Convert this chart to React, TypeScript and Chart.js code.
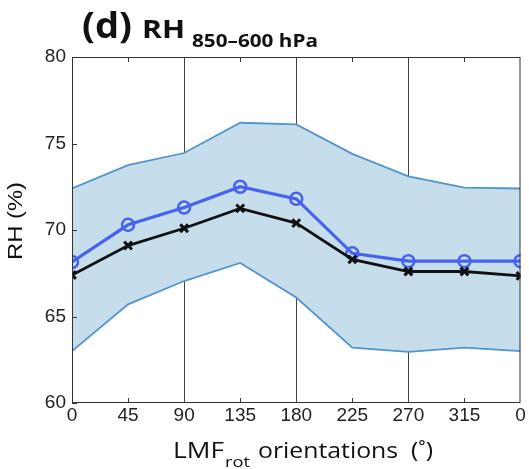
import React, { useEffect, useRef } from "react";
import { Chart, registerables } from "chart.js";

Chart.register(...registerables);

const orientations = [0, 45, 90, 135, 180, 225, 270, 315, 360];
const xTickLabels = ["0", "45", "90", "135", "180", "225", "270", "315", "0"];
const upperBand = [72.4, 73.75, 74.45, 76.2, 76.1, 74.4, 73.1, 72.45, 72.4];
const lowerBand = [63.0, 65.7, 67.05, 68.1, 66.1, 63.2, 62.95, 63.2, 63.0];
const blueMean = [68.15, 70.3, 71.3, 72.5, 71.8, 68.65, 68.2, 68.2, 68.2];
const blackMean = [67.4, 69.1, 70.1, 71.25, 70.4, 68.3, 67.6, 67.6, 67.35];
const yTicks = [60, 65, 70, 75, 80];
const separatorLines = [90, 180, 270];
const minorTicks = [45, 135, 225, 315];

const pts = (vals: number[]) => vals.map((y, i) => ({ x: orientations[i], y }));

function drawFit(ctx: any, text: string, x: number, y: number, font: string, width: number, rot = 0) {
  ctx.save();
  ctx.font = font;
  const w = ctx.measureText(text).width;
  ctx.translate(x, y);
  if (rot) ctx.rotate(rot);
  ctx.scale(width / w, 1);
  ctx.fillText(text, 0, 0);
  ctx.restore();
}

const decorPlugin = {
  id: "decor",
  afterDraw(chart: any) {
    const { ctx, chartArea: a, scales } = chart;
    const xs = scales.x;
    const ys = scales.y;
    ctx.save();
    ctx.strokeStyle = "#333";
    ctx.lineWidth = 1;
    ctx.strokeRect(a.left + 0.5, a.top + 0.5, a.right - a.left - 1, a.bottom - a.top - 1);
    ctx.beginPath();
    minorTicks.forEach((v) => {
      const px = Math.round(xs.getPixelForValue(v)) + 0.5;
      ctx.moveTo(px, a.bottom);
      ctx.lineTo(px, a.bottom - 5);
      ctx.moveTo(px, a.top);
      ctx.lineTo(px, a.top + 5);
    });
    yTicks.forEach((v) => {
      const py = Math.round(ys.getPixelForValue(v)) + 0.5;
      ctx.moveTo(a.left, py);
      ctx.lineTo(a.left + 5, py);
    });
    ctx.stroke();

    ctx.fillStyle = "#111";
    ctx.textBaseline = "alphabetic";
    ctx.textAlign = "left";
    const tf = "'Open Sans', sans-serif";
    drawFit(ctx, "(d)", 82, 38, `bold 35px ${tf}`, 50);
    drawFit(ctx, "RH", 142, 38, `bold 25px ${tf}`, 43);
    drawFit(ctx, "850–600 hPa", 192, 47, `bold 17px ${tf}`, 126);

    drawFit(ctx, "LMF", 173, 458, `22px ${tf}`, 51);
    drawFit(ctx, "rot", 225, 467, `15px ${tf}`, 25);
    drawFit(ctx, "orientations  (˚)", 258, 458, `22px ${tf}`, 175);

    drawFit(ctx, "RH (%)", 22, 260, "20px 'Liberation Sans', Arial, sans-serif", 78, -Math.PI / 2);
    ctx.restore();
  },
};

export default function App() {
  const ref = useRef<HTMLCanvasElement | null>(null);
  useEffect(() => {
    if (!ref.current) return;
    const tickFont = { family: "'Liberation Sans', Arial, sans-serif", size: 19 };
    const chart = new Chart(ref.current, {
      type: "line",
      data: {
        datasets: [
          {
            label: "upper",
            data: pts(upperBand),
            borderColor: "rgb(82,148,205)",
            borderWidth: 1.8,
            pointRadius: 0,
            fill: false,
            order: 3,
          },
          {
            label: "lower",
            data: pts(lowerBand),
            borderColor: "rgb(82,148,205)",
            borderWidth: 1.8,
            pointRadius: 0,
            backgroundColor: "rgb(198,222,236)",
            fill: "-1",
            order: 3,
          },
          {
            label: "blue",
            data: pts(blueMean),
            borderColor: "rgb(72,98,240)",
            borderWidth: 3.2,
            pointStyle: "circle",
            pointRadius: 6,
            pointBorderWidth: 2.5,
            pointBackgroundColor: "rgba(0,0,0,0)",
            pointBorderColor: "rgb(72,98,240)",
            fill: false,
            order: 2,
          },
          {
            label: "black",
            data: pts(blackMean),
            borderColor: "#111",
            borderWidth: 2.8,
            pointStyle: "crossRot",
            pointRadius: 5.5,
            pointBorderWidth: 3,
            pointBorderColor: "#111",
            fill: false,
            order: 1,
          },
        ],
      },
      options: {
        animation: false,
        responsive: false,
        maintainAspectRatio: false,
        layout: { padding: { left: 0, top: 57, right: 5, bottom: 0 } },
        plugins: { legend: { display: false }, tooltip: { enabled: false }, title: { display: false } },
        scales: {
          x: {
            type: "linear",
            min: 0,
            max: 360,
            afterFit: (s: any) => {
              s.height = 66;
              s.paddingLeft = 0;
              s.paddingRight = 0;
            },
            afterBuildTicks: (s: any) => {
              s.ticks = orientations.map((v) => ({ value: v }));
            },
            ticks: {
              autoSkip: false,
              maxRotation: 0,
              padding: 1,
              color: "#222",
              font: tickFont,
              callback: (v: any) => {
                const i = orientations.indexOf(Number(v));
                return i >= 0 ? xTickLabels[i] : "";
              },
            },
            grid: {
              drawTicks: false,
              color: (c: any) =>
                c.tick && separatorLines.includes(c.tick.value) ? "#444" : "rgba(0,0,0,0)",
              lineWidth: 1,
            },
            border: { display: false },
          },
          y: {
            min: 60,
            max: 80,
            afterFit: (s: any) => {
              s.width = 72;
            },
            afterBuildTicks: (s: any) => {
              s.ticks = yTicks.map((v) => ({ value: v }));
            },
            ticks: { padding: 6, color: "#222", font: tickFont },
            grid: { display: false, drawTicks: false },
            border: { display: false },
          },
        },
      },
      plugins: [decorPlugin],
    });
    return () => chart.destroy();
  }, []);
  return (
    <div style={{ position: "absolute", left: 0, top: 0, width: 529, height: 469, background: "#fff" }}>
      <canvas ref={ref} width={529} height={469} style={{ width: 529, height: 469 }} />
    </div>
  );
}
